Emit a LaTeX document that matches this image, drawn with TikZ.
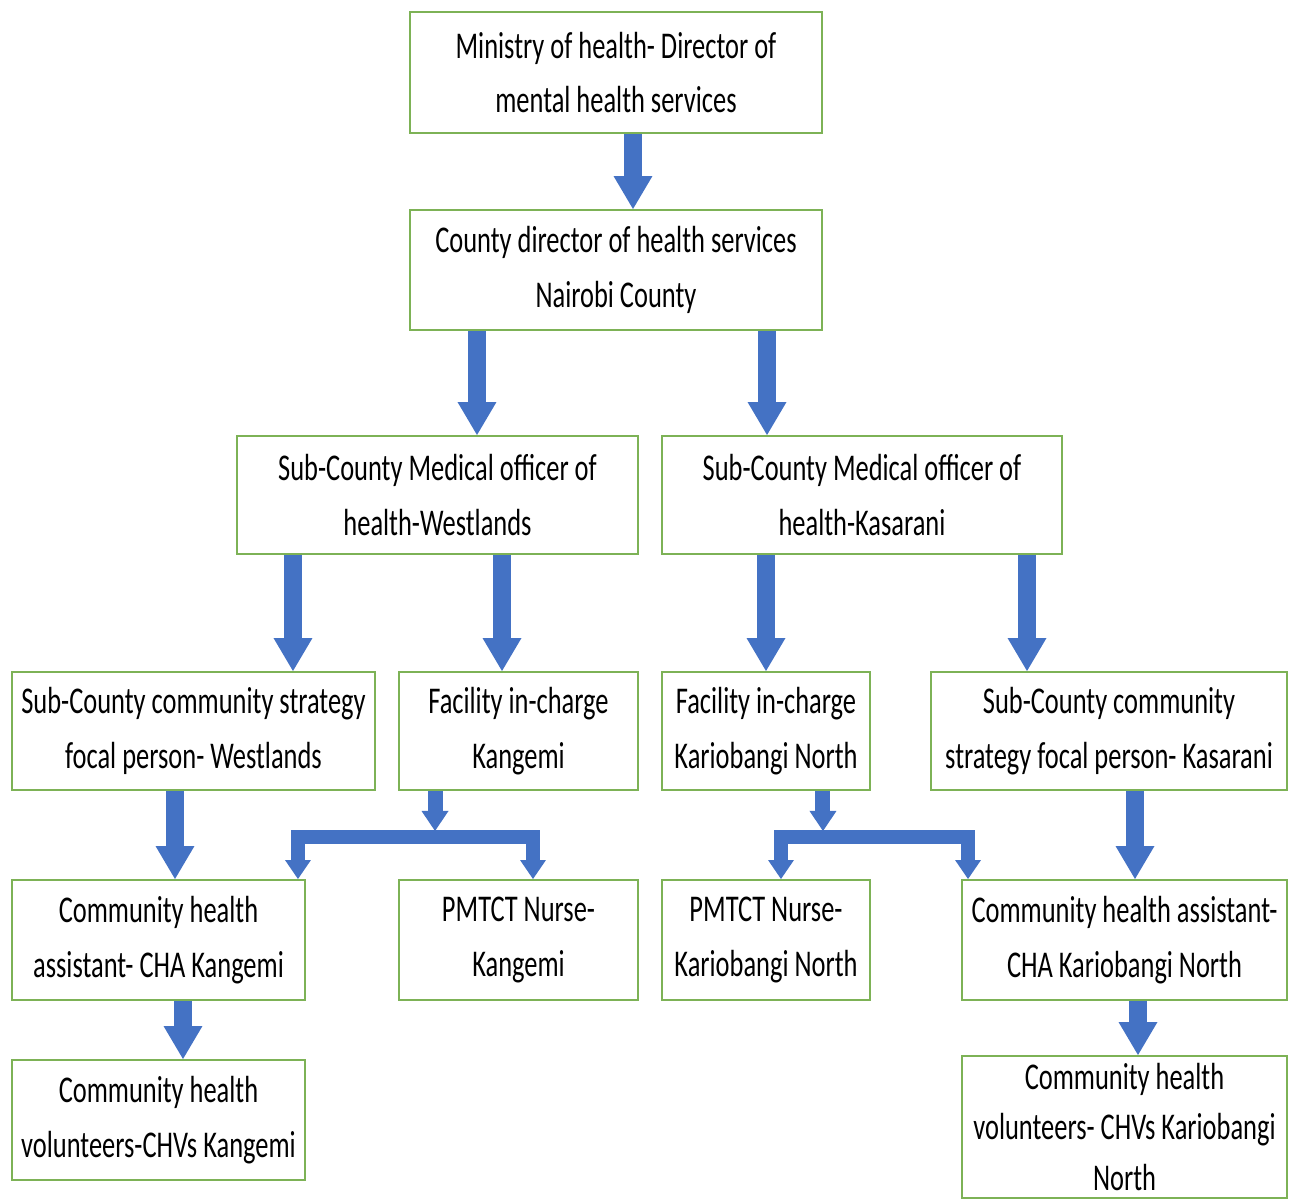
\documentclass[tikz,border=0pt]{standalone}
\usepackage{fontspec}
\setmainfont[FakeStretch=0.7]{Carlito}
\usetikzlibrary{arrows.meta,positioning}

\definecolor{boxgreen}{RGB}{125,178,86}
\definecolor{arrowblue}{RGB}{68,114,196}

\begin{document}
\begin{tikzpicture}[x=0.02cm, y=-0.02cm,
    box/.style={draw=boxgreen, line width=0.04cm, fill=white, rectangle, align=center,
        inner sep=0pt, text=black, font=\fontsize{21.5}{31}\selectfont},
    bigarrow/.style={draw=arrowblue, line width=0.36cm,
        -{Triangle[width=0.78cm, length=0.66cm, line width=0pt]}},
    stemarrow/.style={draw=arrowblue, line width=0.3cm,
        -{Triangle[width=0.54cm, length=0.4cm, line width=0pt]}},
    splitarrow/.style={draw=arrowblue, line width=0.28cm,
        {Triangle[width=0.52cm, length=0.38cm, line width=0pt]}-{Triangle[width=0.52cm, length=0.38cm, line width=0pt]}}]
    \useasboundingbox (0,0) rectangle (1289,1202);

    % Nodes
    \node[box, minimum width=8.24cm, minimum height=2.42cm] (ministry) at (616,72.5) {Ministry of health- Director of\\mental health services};
    \node[box, minimum width=8.24cm, minimum height=2.4cm] (county) at (616,270) {County director of health services\\Nairobi County};
    \node[box, minimum width=8.02cm, minimum height=2.36cm] (scmohW) at (437.5,495) {Sub-County Medical officer of\\health-Westlands};
    \node[box, minimum width=8cm, minimum height=2.36cm] (scmohK) at (862,495) {Sub-County Medical officer of\\health-Kasarani};
    \node[box, minimum width=7.26cm, minimum height=2.36cm] (focalW) at (193.5,731) {Sub-County community strategy\\focal person- Westlands};
    \node[box, minimum width=4.78cm, minimum height=2.36cm] (facKan) at (518.5,731) {Facility in-charge\\Kangemi};
    \node[box, minimum width=4.16cm, minimum height=2.36cm] (facKar) at (766,731) {Facility in-charge\\Kariobangi North};
    \node[box, minimum width=7.12cm, minimum height=2.36cm] (focalK) at (1109,731) {Sub-County community\\strategy focal person- Kasarani};
    \node[box, minimum width=5.86cm, minimum height=2.4cm] (chaKan) at (158.5,940) {Community health\\assistant- CHA Kangemi};
    \node[box, minimum width=4.78cm, minimum height=2.4cm] (pmtctKan) at (518.5,940) {PMTCT Nurse-\\Kangemi};
    \node[box, minimum width=4.16cm, minimum height=2.4cm] (pmtctKar) at (766,940) {PMTCT Nurse-\\Kariobangi North};
    \node[box, minimum width=6.5cm, minimum height=2.4cm] (chaKar) at (1124.5,940) {Community health assistant-\\CHA Kariobangi North};
    \node[box, minimum width=5.86cm, minimum height=2.4cm] (chvKan) at (158.5,1120) {Community health\\volunteers-CHVs Kangemi};
    \node[box, minimum width=6.5cm, minimum height=2.84cm, font=\fontsize{21.5}{28.5}\selectfont] (chvKar) at (1124.5,1127) {Community health\\volunteers- CHVs Kariobangi\\North};

    % Arrows
    \draw[bigarrow] ([xshift=0.34cm]ministry.south) -- ([xshift=0.34cm]county.north);
    \draw[bigarrow] ([xshift=0.79cm]scmohW.north |- county.south) -- ([xshift=0.79cm]scmohW.north);
    \draw[bigarrow] ([xshift=-1.9cm]scmohK.north |- county.south) -- ([xshift=-1.9cm]scmohK.north);
    \draw[bigarrow] ([xshift=1.99cm]focalW.north |- scmohW.south) -- ([xshift=1.99cm]focalW.north);
    \draw[bigarrow] ([xshift=-0.33cm]facKan.north |- scmohW.south) -- ([xshift=-0.33cm]facKan.north);
    \draw[bigarrow] (facKar.north |- scmohK.south) -- (facKar.north);
    \draw[bigarrow] ([xshift=-1.64cm]focalK.north |- scmohK.south) -- ([xshift=-1.64cm]focalK.north);
    \draw[bigarrow] ([xshift=0.33cm]chaKan.north |- focalW.south) -- ([xshift=0.33cm]chaKan.north);
    \draw[bigarrow] ([xshift=0.21cm]chaKar.north |- focalK.south) -- ([xshift=0.21cm]chaKar.north);
    \draw[bigarrow] ([xshift=0.49cm]chaKan.south) -- ([xshift=0.49cm]chvKan.north);
    \draw[bigarrow] ([xshift=0.27cm]chaKar.south) -- ([xshift=0.27cm]chvKar.north);

    % Split arrows below the facilities
    \coordinate (barW) at ([xshift=-1.67cm, yshift=-0.92cm]facKan.south);
    \coordinate (barK) at ([xshift=1.14cm, yshift=-0.92cm]facKar.south);
    \draw[stemarrow] ([xshift=-1.67cm]facKan.south) -- ([yshift=0.12cm]barW);
    \draw[splitarrow] ([xshift=2.79cm]chaKan.north) |- (barW) -| ([xshift=0.29cm]pmtctKan.north);
    \draw[stemarrow] ([xshift=1.14cm]facKar.south) -- ([yshift=0.12cm]barK);
    \draw[splitarrow] ([xshift=0.3cm]pmtctKar.north) |- (barK) -| ([xshift=-3.13cm]chaKar.north);
\end{tikzpicture}
\end{document}
